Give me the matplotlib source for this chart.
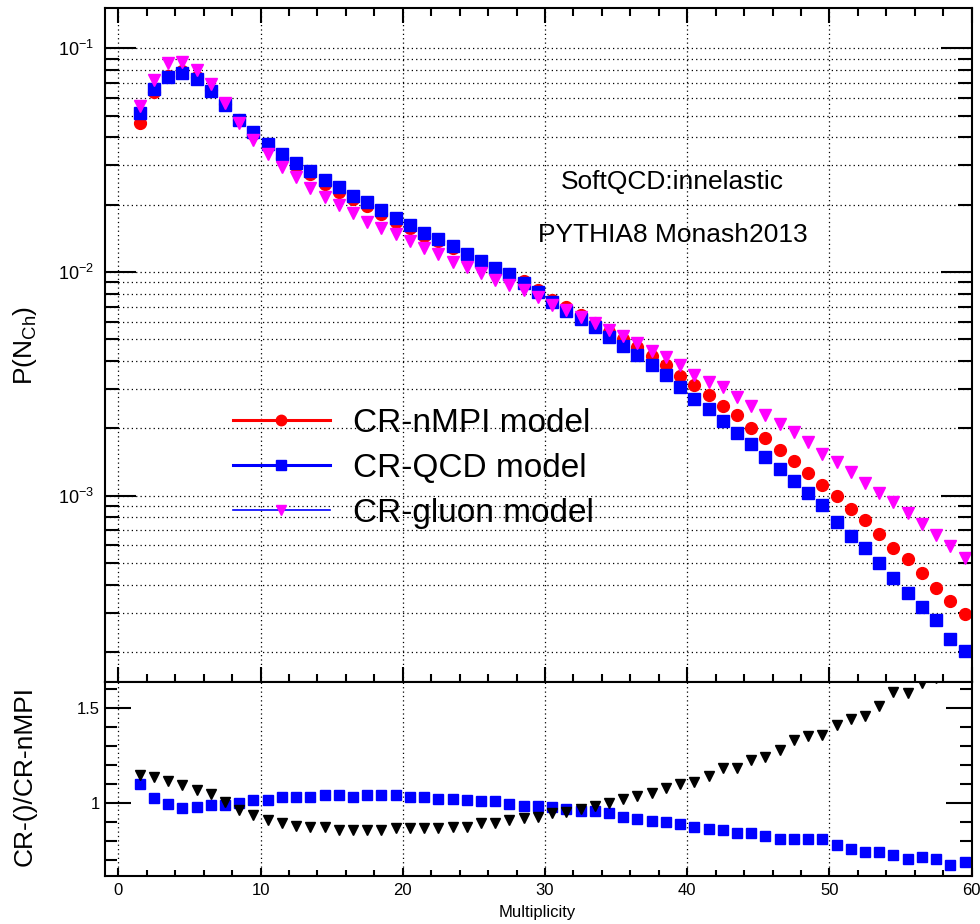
import numpy as np
import matplotlib
matplotlib.use("Agg")
import matplotlib.pyplot as plt
from matplotlib.lines import Line2D
from matplotlib.ticker import MultipleLocator, FixedLocator, FixedFormatter, NullFormatter, LogLocator

plt.rcParams['font.family'] = ['Liberation Sans', 'DejaVu Sans']
plt.rcParams['mathtext.fontset'] = 'custom'
plt.rcParams['mathtext.rm'] = 'Liberation Sans'
plt.rcParams['mathtext.it'] = 'Liberation Sans:italic'
plt.rcParams['mathtext.bf'] = 'Liberation Sans:bold'

# Centros de bin de la multiplicidad
mult = np.arange(1.5, 60.0, 1.0)

# P(N_ch) para cada modelo
p_nmpi = [0.0466, 0.0637, 0.0750, 0.0790, 0.0741, 0.0653, 0.0564, 0.0478, 0.0416, 0.0367,
          0.0325, 0.0298, 0.0273, 0.0248, 0.0229, 0.0212, 0.0198, 0.0181, 0.0168, 0.0157,
          0.0145, 0.0137, 0.0128, 0.0119, 0.0111, 0.01035, 0.00985, 0.00908, 0.00832, 0.00750,
          0.00700, 0.00645, 0.00590, 0.00537, 0.00500, 0.00463, 0.00420, 0.00385, 0.00343, 0.00313,
          0.00282, 0.00252, 0.00229, 0.00200, 0.00182, 0.00160, 0.00143, 0.00127, 0.00112, 0.00100,
          0.000875, 0.000778, 0.000674, 0.000582, 0.000520, 0.000450, 0.000385, 0.000340, 0.000296]

p_qcd = [0.0512, 0.0656, 0.0746, 0.0773, 0.0726, 0.0646, 0.0558, 0.0479, 0.0423, 0.0373,
         0.0336, 0.0308, 0.0282, 0.0258, 0.0239, 0.0219, 0.0206, 0.0189, 0.0175, 0.0162,
         0.0150, 0.0141, 0.0131, 0.0121, 0.01125, 0.01045, 0.0098, 0.00895, 0.00817, 0.00736,
         0.00671, 0.00615, 0.00566, 0.0051, 0.00469, 0.00426, 0.00384, 0.00347, 0.00307, 0.00272,
         0.00244, 0.00216, 0.00191, 0.00171, 0.00149, 0.00131, 0.00116, 0.00103, 0.000908, 0.000766,
         0.000661, 0.000582, 0.000501, 0.000427, 0.000368, 0.000319, 0.000278, 0.000229, 0.000203]

p_gluon = [0.0552, 0.0722, 0.0857, 0.0871, 0.0800, 0.0692, 0.0568, 0.0465, 0.0389, 0.0337,
           0.0296, 0.0265, 0.0237, 0.0217, 0.0200, 0.0184, 0.0168, 0.0157, 0.0148, 0.0137,
           0.0128, 0.0120, 0.0111, 0.0105, 0.00993, 0.0092, 0.00874, 0.0083, 0.00776, 0.0071,
           0.0068, 0.0063, 0.0059, 0.0055, 0.00518, 0.00483, 0.00444, 0.00416, 0.00384, 0.00347,
           0.00324, 0.00305, 0.00277, 0.00251, 0.0023, 0.00209, 0.00192, 0.00173, 0.00154, 0.00142,
           0.00128, 0.00114, 0.00103, 0.00094, 0.000834, 0.000747, 0.000667, 0.000596, 0.000525]

# Cocientes respecto a CR-nMPI
ratio_qcd = [1.10, 1.03, 0.995, 0.977, 0.98, 0.99, 0.99, 1.003, 1.017, 1.017,
             1.033, 1.033, 1.033, 1.042, 1.042, 1.033, 1.042, 1.042, 1.042, 1.033,
             1.033, 1.024, 1.024, 1.016, 1.01, 1.01, 0.995, 0.986, 0.984, 0.982,
             0.97, 0.961, 0.961, 0.947, 0.926, 0.917, 0.909, 0.902, 0.889, 0.874,
             0.865, 0.858, 0.842, 0.842, 0.826, 0.81, 0.81, 0.81, 0.81, 0.78,
             0.758, 0.744, 0.744, 0.728, 0.705, 0.719, 0.705, 0.675, 0.69]

ratio_gluon = [1.149, 1.14, 1.117, 1.095, 1.07, 1.047, 1.005, 0.965, 0.938, 0.912,
               0.895, 0.88, 0.874, 0.874, 0.86, 0.86, 0.86, 0.86, 0.868, 0.868,
               0.868, 0.868, 0.874, 0.874, 0.895, 0.895, 0.912, 0.921, 0.93, 0.947,
               0.956, 0.968, 0.987, 1.0, 1.021, 1.038, 1.053, 1.082, 1.1, 1.114,
               1.144, 1.187, 1.187, 1.228, 1.242, 1.281, 1.333, 1.354, 1.36, 1.412,
               1.442, 1.46, 1.512, 1.587, 1.582, 1.635, 1.66, 1.76, 1.665]

labels = ["CR-nMPI model", "CR-QCD model", "CR-gluon model"]

grid_kw = dict(color='black', linestyle=(0, (1, 2.5)), linewidth=0.9)

fig = plt.figure(figsize=(9.8, 9.24), dpi=100)
ax1 = fig.add_axes([0.1071, 0.2619, 0.8844, 0.7294])
ax2 = fig.add_axes([0.1071, 0.0519, 0.8844, 0.2100])

# Panel superior
ax1.plot(mult, p_nmpi, linestyle='none', marker='o', ms=8.5, color='red', mec='red')
ax1.plot(mult, p_qcd, linestyle='none', marker='s', ms=8.5, color='blue', mec='blue')
ax1.plot(mult, p_gluon, linestyle='none', marker='v', ms=9, color='magenta', mec='magenta')
ax1.set_yscale('log')
ax1.set_xlim(-0.94, 60)
ax1.set_ylim(1.47e-4, 0.1514)
ax1.xaxis.set_major_locator(MultipleLocator(10))
ax1.xaxis.set_minor_locator(MultipleLocator(2))
ax1.yaxis.set_minor_locator(LogLocator(base=10, subs=np.arange(2, 10)))
ax1.yaxis.set_minor_formatter(NullFormatter())
ax1.set_axisbelow(True)
ax1.yaxis.grid(True, which='both', **grid_kw)
ax1.xaxis.grid(True, which='major', **grid_kw)
ax1.tick_params(axis='y', which='major', direction='in', length=22, width=1.5,
                left=True, right=True, labelsize=13, pad=8)
ax1.tick_params(axis='y', which='minor', direction='in', length=10, width=1.5,
                left=True, right=True)
ax1.tick_params(axis='x', which='major', direction='in', length=11, width=1.5,
                top=True, bottom=True, labelbottom=False)
ax1.tick_params(axis='x', which='minor', direction='in', length=5.5, width=1.5,
                top=True, bottom=True)

ax1.text(0.655, 0.731, "SoftQCD:innelastic", transform=ax1.transAxes,
         ha='center', va='baseline', fontsize=19)
ax1.text(0.655, 0.653, "PYTHIA8 Monash2013", transform=ax1.transAxes,
         ha='center', va='baseline', fontsize=19)

handles = [Line2D([], [], color='red', lw=2.2, marker='o', ms=7.5, mec='red'),
           Line2D([], [], color='blue', lw=2.2, marker='s', ms=7.5, mec='blue'),
           Line2D([], [], color='blue', lw=1.2, marker='v', ms=7.5, mfc='magenta', mec='magenta')]
ax1.legend(handles, labels, loc='center left', bbox_to_anchor=(0.1477, 0.3175),
           frameon=False, fontsize=24, handlelength=2.9, handletextpad=0.7,
           labelspacing=0.42, borderpad=0, borderaxespad=0)

# Panel de cocientes
ax2.plot(mult, ratio_qcd, linestyle='none', marker='s', ms=7, color='blue', mec='blue')
ax2.plot(mult, ratio_gluon, linestyle='none', marker='v', ms=7.5, color='black', mec='black')
ax2.set_xlim(-0.94, 60)
ax2.set_ylim(0.617, 1.638)
ax2.xaxis.set_major_locator(MultipleLocator(10))
ax2.xaxis.set_minor_locator(MultipleLocator(2))
ax2.yaxis.set_major_locator(FixedLocator([1.0, 1.5]))
ax2.yaxis.set_major_formatter(FixedFormatter(['1', '1.5']))
ax2.yaxis.set_minor_locator(MultipleLocator(0.1))
ax2.set_axisbelow(True)
ax2.xaxis.grid(True, which='major', **grid_kw)
ax2.tick_params(axis='y', which='major', direction='in', length=19, width=1.5,
                left=True, right=True, labelsize=12, pad=3.5)
ax2.tick_params(axis='y', which='minor', direction='in', length=8.6, width=1.5,
                left=True, right=True)
ax2.tick_params(axis='x', which='major', direction='in', length=6, width=1.5,
                bottom=True, top=False, labelsize=12, pad=5)
ax2.tick_params(axis='x', which='minor', direction='in', length=4, width=1.5,
                bottom=True, top=False)

for ax in (ax1, ax2):
    for s in ax.spines.values():
        s.set_linewidth(1.5)

fig.text(537 / 980, 1 - 913 / 924, "Multiplicity", ha='center', va='center', fontsize=12)
fig.text(25 / 980, 1 - 345 / 924, r"P(N$_{\mathrm{Ch}}$)", rotation=90,
         ha='center', va='center', fontsize=19)
fig.text(25 / 980, 1 - 776 / 924, "CR-()/CR-nMPI", rotation=90,
         ha='center', va='center', fontsize=19)

fig.savefig("out.png", dpi=100)
